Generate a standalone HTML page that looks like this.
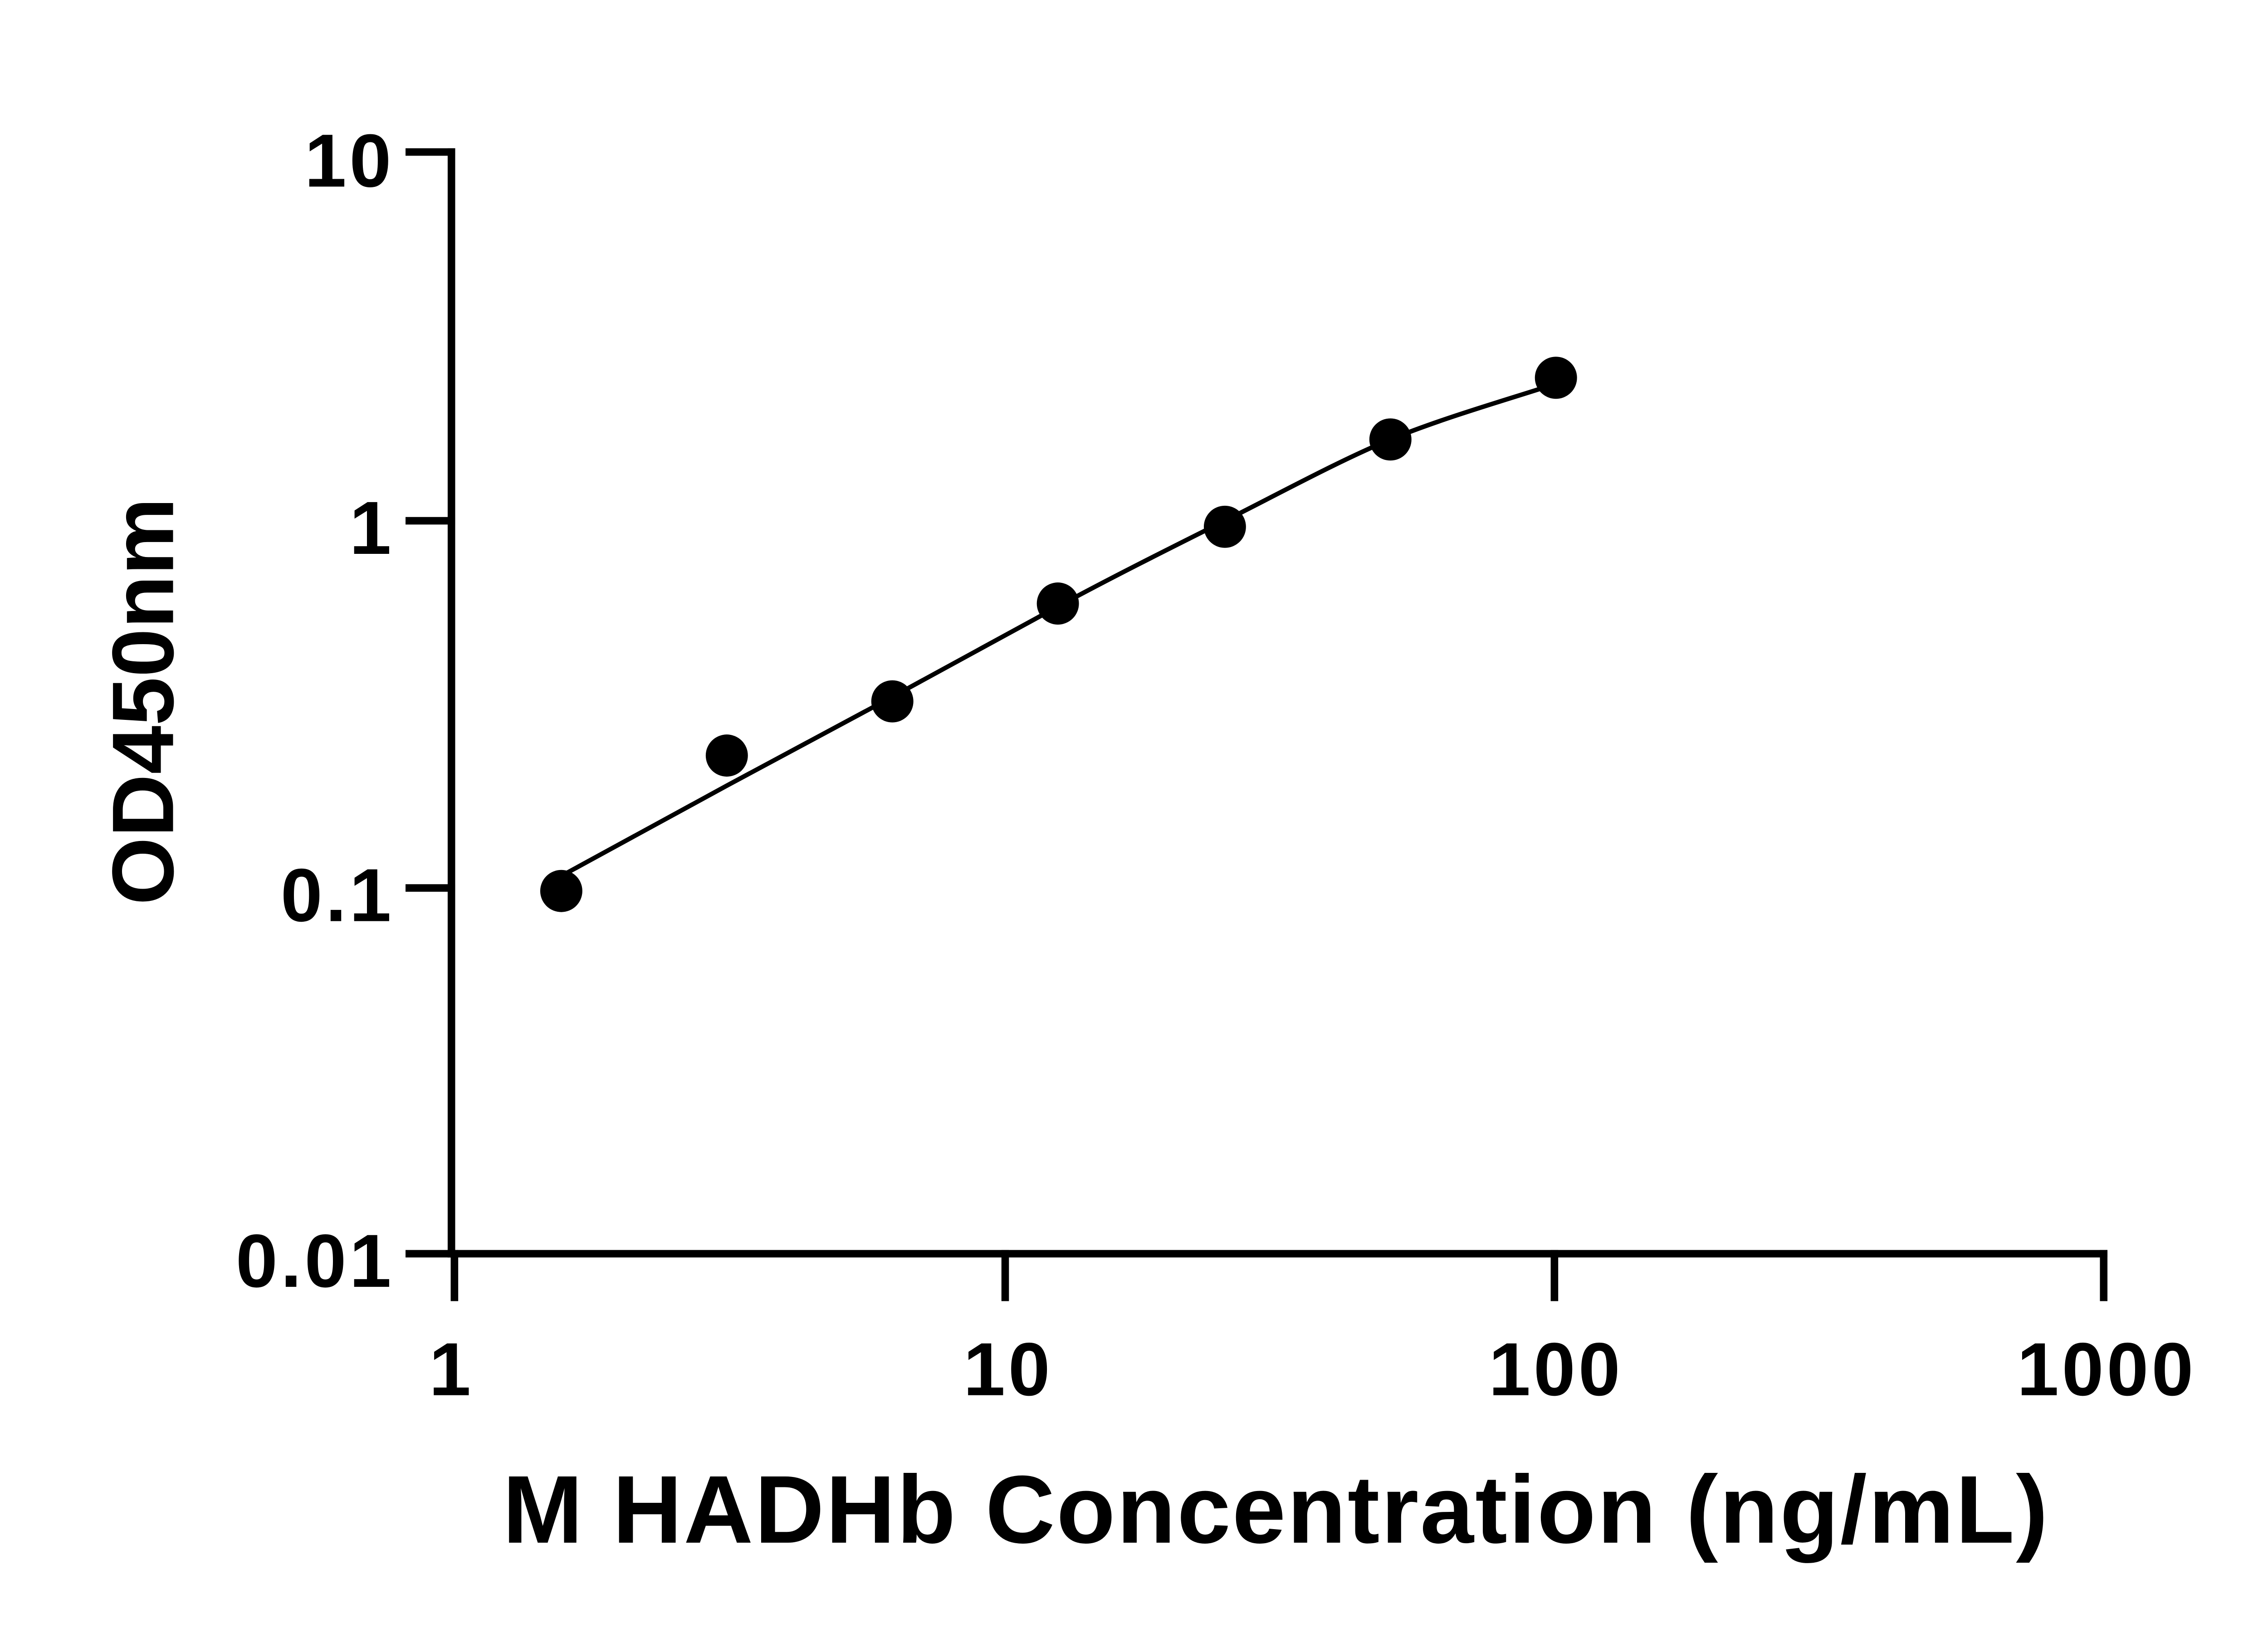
<!DOCTYPE html>
<html><head><style>html,body{margin:0;padding:0;background:#fff}svg{display:block}</style></head>
<body>
<svg width="5142" height="3600" viewBox="0 0 1550 1085" preserveAspectRatio="none" xmlns="http://www.w3.org/2000/svg">
<rect width="1550" height="1085" fill="#fff"/>
<g stroke="#000" stroke-width="5" fill="none" stroke-linecap="square">
<line x1="300" y1="101" x2="300" y2="833"/>
<line x1="300" y1="833" x2="1398" y2="833"/>
<line x1="272" y1="101" x2="300" y2="101"/>
<line x1="272" y1="346" x2="300" y2="346"/>
<line x1="272" y1="590" x2="300" y2="590"/>
<line x1="272" y1="833" x2="300" y2="833"/>
<line x1="302" y1="833" x2="302" y2="862"/>
<line x1="668" y1="833" x2="668" y2="862"/>
<line x1="1033" y1="833" x2="1033" y2="862"/>
<line x1="1398" y1="833" x2="1398" y2="862"/>
</g>
<path d="M373,582 C430,551 450,540 483,522 S560,481 593,463 S670,421 703,403 S780,363 814,346 S890,306 924,292 S1000,266 1034,255" stroke="#000" stroke-width="3" fill="none"/>
<g fill="#000">
<circle cx="373" cy="592" r="14"/>
<circle cx="483" cy="502" r="14"/>
<circle cx="593" cy="466" r="14"/>
<circle cx="703" cy="401" r="14"/>
<circle cx="814" cy="350" r="14"/>
<circle cx="924" cy="292" r="14"/>
<circle cx="1034" cy="251" r="14"/>
</g>
<g font-family="Liberation Sans, sans-serif" font-weight="bold" font-size="50" fill="#000" letter-spacing="2">
<g text-anchor="end">
<text x="262" y="124">10</text>
<text x="262" y="368">1</text>
<text x="262" y="612">0.1</text>
<text x="262" y="855">0.01</text>
</g>
<g text-anchor="middle">
<text x="300" y="927">1</text>
<text x="670" y="927">10</text>
<text x="1034" y="927">100</text>
<text x="1400" y="927">1000</text>
</g>
<text x="848" y="1025" text-anchor="middle" font-size="64" letter-spacing="1">M HADHb Concentration (ng/mL)</text>
<text transform="translate(115,466) rotate(-90)" text-anchor="middle" font-size="58" letter-spacing="0">OD450nm</text>
</g>
</svg>
</body></html>
